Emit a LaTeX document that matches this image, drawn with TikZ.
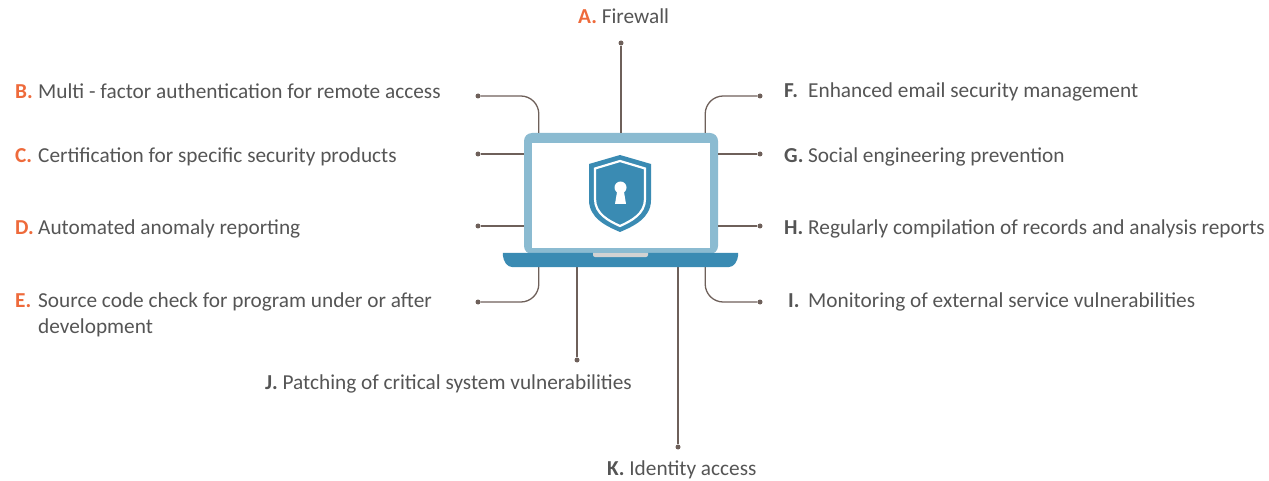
\documentclass[tikz,border=0pt]{standalone}
\usepackage{fontspec}
\setmainfont{Carlito}
\usetikzlibrary{positioning}
\definecolor{accent}{HTML}{EE6A3B}
\definecolor{ink}{HTML}{555555}
\definecolor{wire}{HTML}{6E605A}
\definecolor{lidblue}{HTML}{8BBBD1}
\definecolor{deepblue}{HTML}{3A8BB3}
\definecolor{pad}{HTML}{D2D2D2}
\newcommand{\tagL}[1]{\makebox[23pt][l]{\textbf{\color{accent}#1}}}
\newcommand{\tagR}[1]{\makebox[24pt][l]{\textbf{#1}}}

\begin{document}
\begin{tikzpicture}[x=1pt,y=-1pt,
    lbl/.style={anchor=west,inner sep=0pt,text=ink,font=\fontsize{21.3}{26}\selectfont},
    dot/.style={circle,fill=wire,inner sep=0pt,minimum size=5pt},
    wire/.style={draw=wire,line width=1.3pt},
    elbow/.style={wire,rounded corners=18pt}]
            \useasboundingbox (0,0) rectangle (1269,481);
            \node [dot] (p_A) at (621,43) {};
            \node [dot] (p_B) at (478,96) {};
            \node [dot] (p_C) at (478,154) {};
            \node [dot] (p_D) at (478,226) {};
            \node [dot] (p_E) at (478,302) {};
            \node [dot] (p_F) at (760,96) {};
            \node [dot] (p_G) at (760,154) {};
            \node [dot] (p_H) at (760,226) {};
            \node [dot] (p_I) at (760,302) {};
            \node [dot] (p_J) at (577,360) {};
            \node [dot] (p_K) at (678,447) {};
            \node [fill=lidblue,rounded corners=8pt,minimum width=194pt,minimum height=121pt,inner sep=0pt] (lid) at (621,193.5) {};
            \node [fill=white,minimum width=178pt,minimum height=105pt,inner sep=0pt] (screen) at (621,195.5) {};
            \node [minimum width=235pt,minimum height=14pt,inner sep=0pt] (base) at (620.5,260) {};
            \path[wire]
            	(p_A) edge (p_A |- lid.north)
            	(p_C) edge (p_C -| lid.west)
            	(p_D) edge (p_D -| lid.west)
            	(p_G) edge (p_G -| lid.east)
            	(p_H) edge (p_H -| lid.east)
            	(p_J) edge (p_J |- base.south)
            	(p_K) edge (p_K |- base.south);
            \draw[elbow] (p_B) -| ([xshift=15pt]lid.north west);
            \draw[elbow] (p_E) -| ([xshift=36pt]base.south west);
            \draw[elbow] (p_F) -| ([xshift=-13pt]lid.north east);
            \draw[elbow] (p_I) -| ([xshift=-33pt]base.south east);
            \fill[deepblue] (base.north west) -- (base.north east) -- ([yshift=-2pt]base.north east)
            	to[out=-95,in=0] ([xshift=-10pt]base.south east) -- ([xshift=10pt]base.south west)
            	to[out=180,in=-85] ([yshift=-2pt]base.north west) -- cycle;
            \fill[pad,rounded corners=2pt] (593,251) rectangle (648,257);
            \fill[lidblue] (593,251) rectangle (648,253);
            \fill[deepblue] (620,155) -- (651,164) -- (651,200) .. controls (651,218) and (634,226) .. (620,232)
            	.. controls (606,226) and (589,218) .. (589,200) -- (589,164) -- cycle;
            \draw[white,line width=2.2pt] (620,161) -- (645,168.5) -- (645,199) .. controls (645,214) and (631,221) .. (620,226)
            	.. controls (609,221) and (595,214) .. (595,199) -- (595,168.5) -- cycle;
            \fill[white] (620.5,187.5) circle (6);
            \fill[white] (617.5,189) -- (623.5,189) -- (626,204) -- (615,204) -- cycle;
            \node [lbl] (l_A) at (578,16) {\textbf{\color{accent}A.} Firewall};
            \node [lbl] (l_B) at (15,91) {\tagL{B.}Multi - factor authentication for remote access};
            \node [lbl] (l_C) at (15,157) {\tagL{C.}Certification for specific security products};
            \node [lbl] (l_D) at (15,229) {\tagL{D.}Automated anomaly reporting};
            \node [lbl,align=left] (l_E) at (15,315) {\tagL{E.}Source code check for program under or after\\\hphantom{\tagL{E.}}development};
            \node [lbl] (l_F) at (784,92) {\tagR{F.}Enhanced email security management};
            \node [lbl] (l_G) at (784,157) {\tagR{G.}Social engineering prevention};
            \node [lbl] (l_H) at (784,229) {\tagR{H.}Regularly compilation of records and analysis reports};
            \node [lbl] (l_I) at (788,302) {\makebox[20pt][l]{\textbf{I.}}Monitoring of external service vulnerabilities};
            \node [lbl] (l_J) at (265,384) {\textbf{J.} Patching of critical system vulnerabilities};
            \node [lbl] (l_K) at (607,470) {\textbf{K.} Identity access};
\end{tikzpicture}
\end{document}
